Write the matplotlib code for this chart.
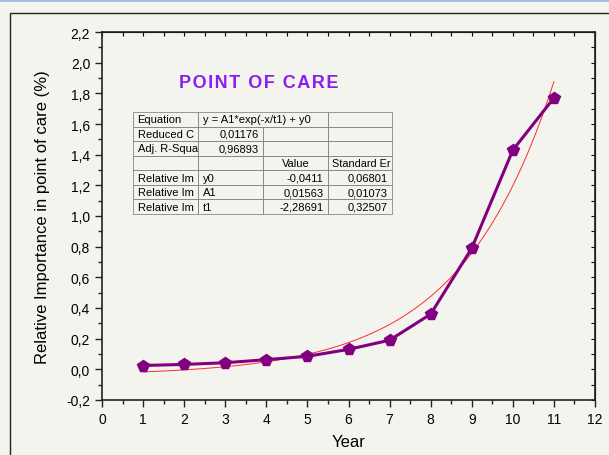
import numpy as np
import matplotlib
matplotlib.use("Agg")
import matplotlib.pyplot as plt
from matplotlib.patches import Rectangle
from matplotlib.ticker import MultipleLocator, FuncFormatter

plt.rcParams['font.family'] = ['Liberation Sans', 'DejaVu Sans']

# datos
years = [1, 2, 3, 4, 5, 6, 7, 8, 9, 10, 11]
importance = [0.025, 0.032, 0.043, 0.063, 0.085, 0.13, 0.19, 0.36, 0.79, 1.43, 1.77]

# parametros del ajuste exponencial (tabla)
y0 = -0.0411
A1 = 0.01563
t1 = -2.28691

table_rows = [
    ["Equation", "y = A1*exp(-x/t1) + y0", "", ""],
    ["Reduced C", "0,01176", "", ""],
    ["Adj. R-Squa", "0,96893", "", ""],
    ["", "", "Value", "Standard Er"],
    ["Relative Im", "y0", "-0,0411", "0,06801"],
    ["Relative Im", "A1", "0,01563", "0,01073"],
    ["Relative Im", "t1", "-2,28691", "0,32507"],
]

bg = '#f4f4ef'
fig = plt.figure(figsize=(6.09, 4.56), dpi=100, facecolor=bg)
ax = fig.add_axes([102/609, 1-401/456, 493/609, 368/456])
ax.set_facecolor(bg)

# marco exterior y linea azul superior
fig.patches.append(Rectangle((10/609, -0.1), 1.2, 1-14/456+0.1, transform=fig.transFigure,
                             fill=False, edgecolor='#222222', lw=1.0))
fig.add_artist(plt.Line2D([0, 1], [0.998, 0.998], transform=fig.transFigure, color='#9fc0e6', lw=2))

xfit = np.linspace(1, 11, 200)
yfit = A1*np.exp(-xfit/t1) + y0
ax.plot(xfit, yfit, color='#ff2a2a', lw=0.7, zorder=2)
ax.plot(years, importance, color='#800080', lw=2.2, marker='p', markersize=8.5, zorder=3)

ax.set_xlim(0, 12)
ax.set_ylim(-0.2, 2.2)
ax.xaxis.set_major_locator(MultipleLocator(1))
ax.xaxis.set_minor_locator(MultipleLocator(0.5))
ax.yaxis.set_major_locator(MultipleLocator(0.2))
ax.yaxis.set_minor_locator(MultipleLocator(0.1))
ax.yaxis.set_major_formatter(FuncFormatter(lambda v, p: f'{v:.1f}'.replace('.', ',').replace('-0,0', '0,0')))
ax.tick_params(which='major', direction='out', length=5, width=1, labelsize=10, color='#222222')
ax.tick_params(which='minor', direction='out', length=3, width=1, color='#222222')
for s in ax.spines.values():
    s.set_linewidth(1.2)
    s.set_color('#222222')

# ticks interiores arriba y derecha
axt = ax.secondary_xaxis('top')
axt.xaxis.set_major_locator(MultipleLocator(0.5))
axt.tick_params(direction='in', length=3, labeltop=False)
axr = ax.secondary_yaxis('right')
axr.yaxis.set_major_locator(MultipleLocator(0.1))
axr.tick_params(direction='in', length=3, labelright=False)

ax.set_xlabel('Year', fontsize=12, labelpad=6)
ax.set_ylabel('Relative Importance in point of care (%)', fontsize=12, labelpad=12)

hs = '\u200a'
title = (' ' + hs * 2).join(hs.join(w) for w in ['POINT', 'OF', 'CARE'])
ax.text((259-102)/493, 1-(84-33)/368, title, transform=ax.transAxes, ha='center', va='center',
        fontsize=13, fontweight='bold', color='#8c1cf0')

tb = ax.table(cellText=table_rows, bbox=[31/493, 1-(113-33)/368-102/368, 259/493, 102/368],
              colWidths=[65, 65, 65, 64], cellLoc='left')
tb.auto_set_font_size(False)
for (r, c), cell in tb.get_celld().items():
    cell.set_fontsize(8)
    cell.set_fill(False)
    cell.set_edgecolor('#888888')
    cell.set_linewidth(0.6)
    cell.PAD = 0.07
    if (c == 1 and r in (1, 2)) or (c >= 2 and r >= 4):
        cell.get_text().set_ha('right')
    if r == 3 and c == 2:
        cell.get_text().set_ha('center')
    if r == 3 and c == 3:
        cell.get_text().set_ha('right')
        cell.PAD = 0.02
        cell.set_fontsize(7.8)
tb[0, 1].visible_edges = 'BTL'
tb[0, 2].visible_edges = 'BTR'

fig.savefig('out.png', dpi=100, facecolor=bg)
